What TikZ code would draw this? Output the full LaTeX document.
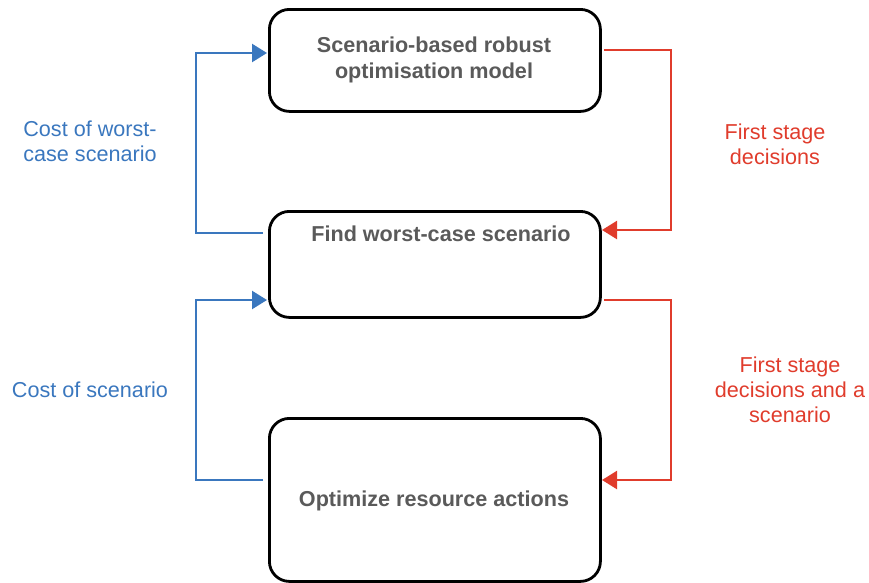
\documentclass[tikz,border=0pt]{standalone}
\usepackage{fontspec}
\setmainfont{Liberation Sans}
\usetikzlibrary{arrows.meta}
\definecolor{boxtext}{HTML}{5A5A5A}
\definecolor{bluec}{HTML}{3A77BE}
\definecolor{redc}{HTML}{E03C2C}
\tikzset{
  stagebox/.style={draw=black, line width=2.8pt, rounded corners=20pt},
  boxlabel/.style={text=boxtext, font=\fontsize{21.6}{26}\selectfont\bfseries, align=center, inner sep=0pt},
  bluelabel/.style={text=bluec, font=\fontsize{21.6}{25}\selectfont, align=center, inner sep=0pt},
  redlabel/.style={text=redc, font=\fontsize{21.6}{25}\selectfont, align=center, inner sep=0pt},
  bluearrow/.style={draw=bluec, line width=2.4pt, -{Triangle[length=15pt,width=18pt]}},
  redarrow/.style={draw=redc, line width=2.4pt, -{Triangle[length=15pt,width=18pt]}},
}
\begin{document}
\begin{tikzpicture}[x=1pt,y=-1pt]
\useasboundingbox (0,0) rectangle (869,582);
% boxes
\node[stagebox, minimum width=331pt, minimum height=102pt, anchor=north west] (b1) at (268,8) {};
\node[stagebox, minimum width=331pt, minimum height=106pt, anchor=north west] (b2) at (268,210) {};
\node[stagebox, minimum width=331pt, minimum height=163pt, anchor=north west] (b3) at (268,417) {};
% box texts
\node[boxlabel] (t1) at (434,60) {Scenario-based robust\\optimisation model};
\node[boxlabel] (t2) at (441,234) {Find worst-case scenario};
\node[boxlabel] (t3) at (434,501) {Optimize resource actions};
% side labels
\node[bluelabel] (l1) at (90,141) {Cost of worst-\\case scenario};
\node[bluelabel] (l2) at (90,390) {Cost of scenario};
\node[redlabel] (r1) at (775,144) {First stage\\decisions};
\node[redlabel] (r2) at (790,390) {First stage\\decisions and a\\scenario};
% coordinates for connectors
\coordinate (b2L) at (263,233);
\coordinate (b1L) at (267,53);
\coordinate (b3L) at (263,480);
\coordinate (b2Lb) at (267,300);
\coordinate (b1R) at (604,50);
\coordinate (b2R) at (602,230);
\coordinate (b2Rb) at (604,300);
\coordinate (b3R) at (602,480);
% blue connectors
\draw[bluearrow] (b2L) -| (196,53) -- (b1L);
\draw[bluearrow] (b3L) -| (196,300) -- (b2Lb);
% red connectors
\draw[redarrow] (b1R) -| (671,230) -- (b2R);
\draw[redarrow] (b2Rb) -| (671,480) -- (b3R);
\end{tikzpicture}
\end{document}
